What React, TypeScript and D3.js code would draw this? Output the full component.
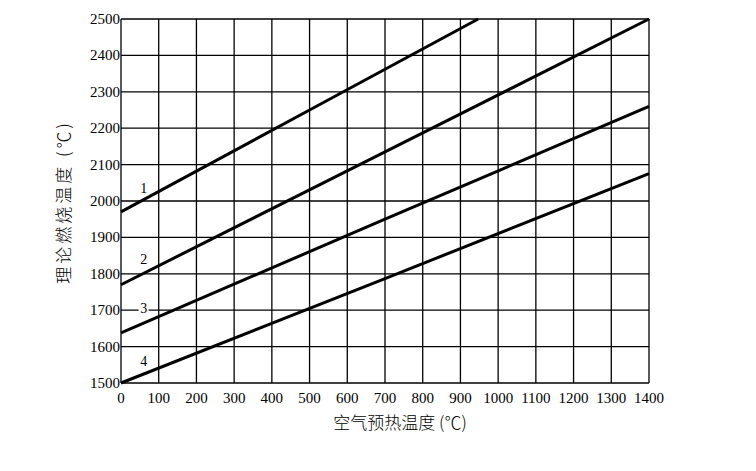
import React from "react";
import * as d3 from "d3";

const xTicks = [0, 100, 200, 300, 400, 500, 600, 700, 800, 900, 1000, 1100, 1200, 1300, 1400];
const yTicks = [1500, 1600, 1700, 1800, 1900, 2000, 2100, 2200, 2300, 2400, 2500];

const line1X = [0, 500, 947];
const line1Y = [1970, 2250, 2500];
const line2X = [0, 700, 1400];
const line2Y = [1770, 2135, 2500];
const line3X = [0, 700, 1400];
const line3Y = [1638, 1950, 2260];
const line4X = [0, 700, 1400];
const line4Y = [1500, 1787, 2075];

const seriesNames = ["1", "2", "3", "4"];
const labelValues = [2035, 1840, 1705, 1560];
const labelXValue = 60;

const xTitle = "空气预热温度 (℃)";
const yTitle = "理论燃烧温度 (℃)";

export default function App() {
  const W = 756, H = 471;
  const left = 121, right = 649, top = 19, bottom = 383;
  const x = d3.scaleLinear().domain([0, 1400]).range([left, right]);
  const y = d3.scaleLinear().domain([1500, 2500]).range([bottom, top]);
  const series = [
    [line1X, line1Y],
    [line2X, line2Y],
    [line3X, line3Y],
    [line4X, line4Y],
  ];
  const lineGen = d3
    .line<[number, number]>()
    .x((d) => x(d[0]))
    .y((d) => y(d[1]));
  const numFont = "'Liberation Serif', 'DejaVu Serif', serif";
  const cjkFont = "'Noto Sans CJK SC', sans-serif";
  return (
    <svg
      width={W}
      height={H}
      style={{ position: "absolute", left: 0, top: 0, background: "#fff" }}
    >
      <rect x={0} y={0} width={W} height={H} fill="#fff" />
      {xTicks.map((t) => (
        <line key={"gx" + t} x1={x(t)} x2={x(t)} y1={top} y2={bottom} stroke="#000" strokeWidth={1.3} />
      ))}
      {yTicks.map((t) => (
        <line key={"gy" + t} x1={left} x2={right} y1={y(t)} y2={y(t)} stroke="#000" strokeWidth={1.3} />
      ))}
      {series.map(([xs, ys], i) => (
        <path
          key={"s" + i}
          d={lineGen(xs.map((v, j) => [v, ys[j]] as [number, number])) || ""}
          fill="none"
          stroke="#000"
          strokeWidth={3}
        />
      ))}
      {seriesNames.map((n, i) => (
        <g key={"lab" + n}>
          <rect x={x(labelXValue) - 5} y={y(labelValues[i]) - 8} width={10} height={15} fill="#fff" />
          <text
            x={x(labelXValue)}
            y={y(labelValues[i])}
            fontFamily={numFont}
            fontSize={14}
            textAnchor="middle"
            dominantBaseline="central"
            fill="#000"
          >
            {n}
          </text>
        </g>
      ))}
      {yTicks.map((t) => (
        <text
          key={"yl" + t}
          x={left - 1}
          y={y(t)}
          fontFamily={numFont}
          fontSize={15}
          textAnchor="end"
          dominantBaseline="central"
          fill="#000"
        >
          {t}
        </text>
      ))}
      {xTicks.map((t) => (
        <text
          key={"xl" + t}
          x={x(t)}
          y={bottom + 15}
          fontFamily={numFont}
          fontSize={15}
          textAnchor="middle"
          dominantBaseline="central"
          fill="#000"
        >
          {t}
        </text>
      ))}
      <text
        x={400}
        y={421}
        fontFamily={cjkFont}
        fontSize={17}
        fontWeight={300}
        textAnchor="middle"
        dominantBaseline="central"
        fill="#000"
      >
        {xTitle}
      </text>
      <text
        transform={`translate(62, 202) rotate(-90)`}
        fontFamily={cjkFont}
        fontSize={17}
        fontWeight={300}
        letterSpacing={3}
        textAnchor="middle"
        dominantBaseline="central"
        fill="#000"
      >
        {yTitle}
      </text>
    </svg>
  );
}
